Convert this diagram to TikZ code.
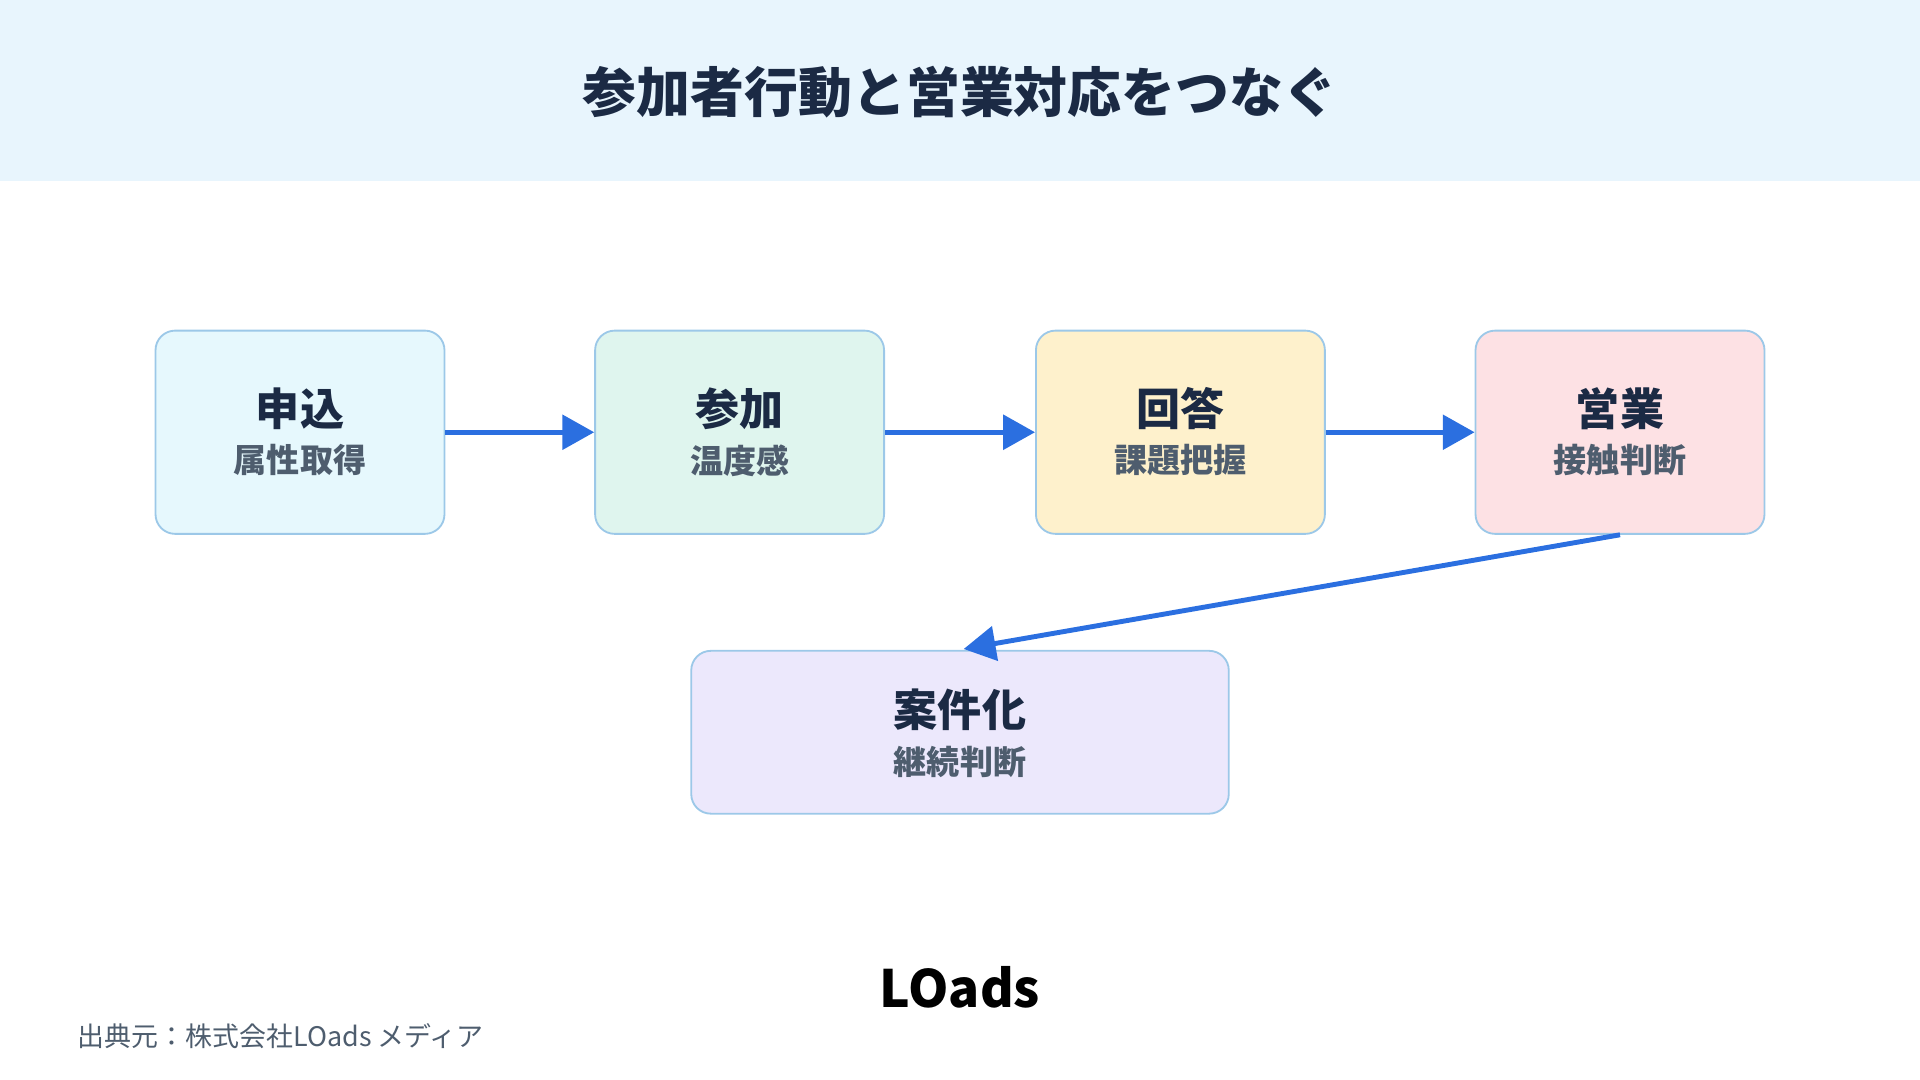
\documentclass[tikz,border=0pt]{standalone}
\usepackage{fontspec}
\setmainfont{Noto Sans CJK JP}
\usepackage{tikz}
\usetikzlibrary{positioning,arrows.meta}
\definecolor{bandblue}{HTML}{E8F5FD}
\definecolor{navy}{HTML}{1B2A44}
\definecolor{subgray}{HTML}{4E5D6E}
\definecolor{flowblue}{HTML}{2B6FE0}
\definecolor{edgeblue}{HTML}{9CC8E8}
\definecolor{fillapply}{HTML}{E6F8FD}
\definecolor{filljoin}{HTML}{DFF5EE}
\definecolor{fillanswer}{HTML}{FEF1CC}
\definecolor{fillsales}{HTML}{FDE1E4}
\definecolor{filldeal}{HTML}{ECE8FC}
\begin{document}
\begin{tikzpicture}[x=1pt,y=-1pt,
  stage/.style={draw=edgeblue,line width=1.5pt,rounded corners=16pt,minimum width=236pt,minimum height=166pt,align=center},
  flow/.style={draw=flowblue,line width=4pt,-{Triangle[length=26pt,width=28pt]}},
  head/.style={font=\fontsize{36}{42}\selectfont\bfseries,text=navy},
  sub/.style={font=\fontsize{27}{32}\selectfont\bfseries,text=subgray}]
\useasboundingbox (0,0) rectangle (1568,882);
\fill[bandblue] (0,0) rectangle (1568,148);
\node (title) at (784,75) {\fontsize{44}{50}\selectfont\bfseries\color{navy}参加者行動と営業対応をつなぐ};
% stages
\node[stage,fill=fillapply] (apply) at (245,353) {};
\node[stage,fill=filljoin] (join) at (604,353) {};
\node[stage,fill=fillanswer] (answer) at (964,353) {};
\node[stage,fill=fillsales] (sales) at (1323,353) {};
\node[stage,fill=filldeal,minimum width=439pt,minimum height=133pt] (deal) at (784,598) {};
\node[head] at (245,334) {申込};   \node[sub] at (245,376) {属性取得};
\node[head] at (604,334) {参加};   \node[sub] at (604,376) {温度感};
\node[head] at (964,334) {回答};   \node[sub] at (964,376) {課題把握};
\node[head] at (1323,334) {営業};  \node[sub] at (1323,376) {接触判断};
\node[head] at (784,580) {案件化}; \node[sub] at (784,622) {継続判断};
% arrows
\draw[flow] (apply.east) -- (join.west);
\draw[flow] (join.east) -- (answer.west);
\draw[flow] (answer.east) -- (sales.west);
\coordinate (dealtop) at (787,530);
\draw[flow] (sales.south) -- (dealtop);
\node (logo) at (784,806) {\fontsize{42}{48}\selectfont\bfseries\color{black}LOads};
\node[anchor=west,text=subgray] (src) at (60,846) {\fontsize{22}{26}\selectfont 出典元：株式会社LOads メディア};
\end{tikzpicture}
\end{document}
